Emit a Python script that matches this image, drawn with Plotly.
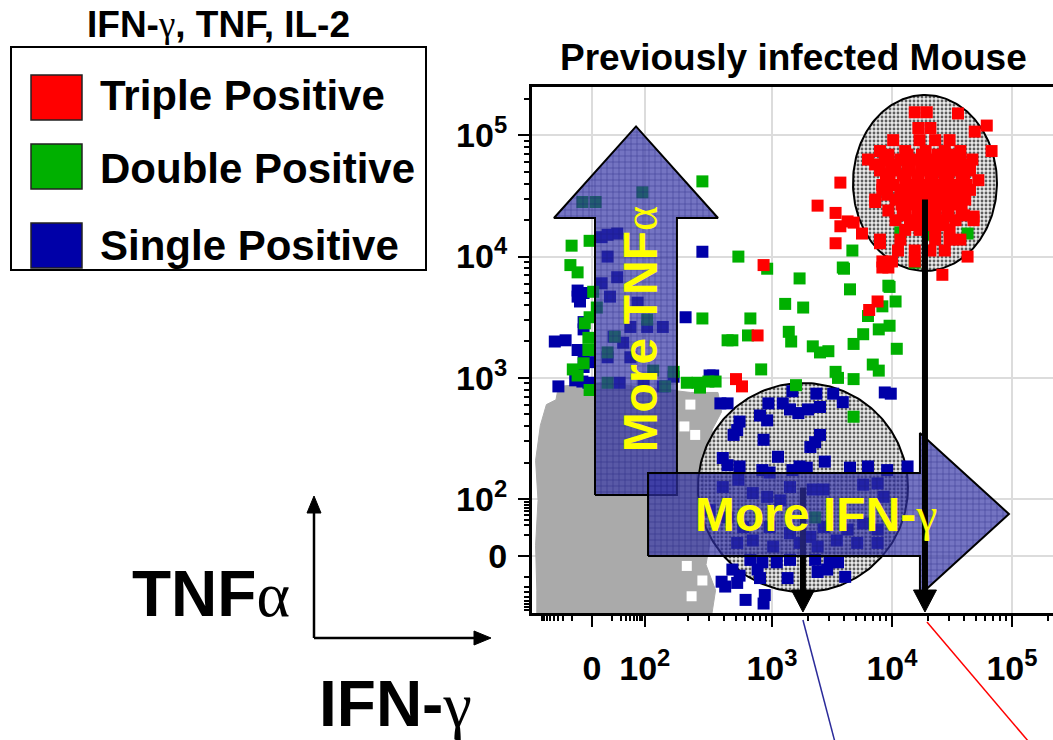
import numpy as np
import plotly.graph_objects as go

FONT = "Liberation Sans, Arial, sans-serif"
GREEK = "font-family:Liberation Serif, Times New Roman, serif;font-weight:normal"

# ---------------- axes: display decades (10^k sits near k, biexponential zero at *_ZERO)
X_RANGE = [1.0, 5.342]
Y_RANGE = [1.062, 5.398]
X_ZERO = 1.50
Y_ZERO = 1.532
x_tick_vals = [X_ZERO, 1.94, 3, 4, 5]
y_tick_vals = [Y_ZERO, 2, 3, 4, 5]
tick_text = ["0", "10<sup>2</sup>", "10<sup>3</sup>", "10<sup>4</sup>", "10<sup>5</sup>"]
linear_fracs = [0.37, 0.54, 0.64, 0.72, 0.79, 0.85, 0.905, 0.955]
log_decades = [2, 3, 4, 5]

# ---------------- events (IFN-gamma display decade, TNF display decade)
red_x = [4.22, 4.32, 4.19, 4.29, 4.55, 4.79, 4.69,
         4.01, 4.23, 4.36, 4.48,
         4.83, 3.90, 4.11, 4.28, 4.44, 4.57,
         3.80, 3.94, 4.07, 4.19, 4.32, 4.44, 4.57, 4.67,
         3.90, 4.03, 4.15, 4.28, 4.40, 4.53, 4.65,
         3.98, 4.11, 4.22, 4.32, 4.44, 4.58, 4.72,
         3.92, 4.07, 4.19, 4.30, 4.40, 4.53, 4.65,
         3.86, 4.03, 4.15, 4.28, 4.38, 4.48, 4.61,
         3.97, 4.11, 4.23, 4.36, 4.47, 4.58,
         4.03, 4.15, 4.28, 4.40, 4.53, 4.68,
         4.11, 4.23, 4.36, 4.48,
         3.90, 4.07, 4.36, 4.48, 4.57,
         4.05, 4.19, 4.32, 4.44,
         3.92, 4.00, 4.19,
         4.42, 4.63, 3.97,
         3.57, 3.63, 3.68, 3.75, 3.38, 3.53, 3.57, 3.53, 2.93, 3.88,
         3.81, 2.88, 2.70, 2.75, 3.92, 3.86, 4.68, 3.90, 3.92,
         3.97, 4.13, 4.25, 4.38, 4.50,
         3.86, 4.00, 4.13, 4.25, 4.36, 4.49, 4.61,
         3.95, 4.09, 4.21, 4.34, 4.47, 4.60,
         4.01, 4.15, 4.26, 4.36, 4.49, 4.62,
         3.96, 4.11, 4.23, 4.34, 4.45, 4.57,
         4.08, 4.20, 4.32, 4.43, 4.54,
         4.09, 4.21, 4.33, 4.46, 4.60,
         4.19, 4.31, 4.43]
red_y = [5.06, 5.06, 5.19, 5.19, 5.18, 5.08, 5.03,
         4.96, 4.96, 4.96, 4.96,
         4.87, 4.87, 4.87, 4.87, 4.87, 4.87,
         4.80, 4.80, 4.80, 4.80, 4.80, 4.80, 4.80, 4.80,
         4.71, 4.71, 4.71, 4.71, 4.71, 4.71, 4.71,
         4.63, 4.63, 4.63, 4.63, 4.63, 4.63, 4.63,
         4.55, 4.55, 4.55, 4.55, 4.55, 4.55, 4.55,
         4.47, 4.47, 4.47, 4.47, 4.47, 4.47, 4.47,
         4.38, 4.38, 4.38, 4.38, 4.38, 4.38,
         4.30, 4.30, 4.30, 4.30, 4.30, 4.30,
         4.22, 4.22, 4.22, 4.22,
         4.14, 4.14, 4.14, 4.14, 4.14,
         4.05, 4.05, 4.05, 4.05,
         3.96, 3.96, 3.96,
         3.85, 4.00, 3.91,
         4.61, 4.29, 4.28, 4.19, 4.42, 4.36, 4.25, 4.11, 3.93, 3.63,
         3.56, 3.35, 2.99, 2.93, 4.59, 4.45, 4.33, 4.11, 3.91,
         4.84, 4.84, 4.84, 4.84, 4.84,
         4.76, 4.76, 4.76, 4.76, 4.76, 4.76, 4.76,
         4.67, 4.67, 4.67, 4.67, 4.67, 4.67,
         4.59, 4.59, 4.59, 4.59, 4.59, 4.59,
         4.51, 4.51, 4.51, 4.51, 4.51, 4.51,
         4.43, 4.43, 4.43, 4.43, 4.43,
         4.34, 4.34, 4.34, 4.34, 4.34,
         4.26, 4.26, 4.26]

green_x = [2.42, 2.72, 2.96, 3.67, 3.60, 3.23, 3.65, 3.98, 3.11, 3.26,
           4.03, 3.92, 3.80, 2.42, 2.82, 2.80, 3.14, 3.16, 2.67, 3.76,
           3.89, 3.98, 3.68, 3.34, 3.40, 3.47, 4.04, 2.91, 3.84, 3.89,
           3.53, 3.55, 3.68,
           4.07, 4.32, 4.19, 4.63, 3.59, 3.97, 3.20, 3.68,
           2.38, 2.47, 2.53, 2.29, 2.40, 2.63,
           1.33, 1.48, 1.32, 1.38, 1.51, 1.54, 1.48, 1.44, 1.47, 1.47, 1.34, 1.38, 1.48, 1.43,
           1.92, 1.42, 1.53, 3.36, 1.69, 1.63, 2.01, 2.18, 2.11, 1.63, 1.96]
green_y = [4.62, 4.00, 3.90, 4.05, 3.90, 3.82, 3.73, 3.75, 3.61, 3.58,
           3.63, 3.59, 3.51, 3.49, 3.49, 3.35, 3.38, 3.30, 3.31, 3.36,
           3.40, 3.43, 3.28, 3.26, 3.21, 3.22, 3.24, 3.07, 3.11, 3.06,
           3.05, 3.00, 2.99,
           4.20, 4.18, 3.95, 4.19, 3.91, 3.76, 2.94, 2.68,
           2.96, 2.97, 2.97, 2.96, 2.92, 3.31,
           4.09, 4.13, 3.93, 3.87, 3.71, 3.58, 3.50, 3.45, 3.33, 3.23, 3.07, 3.02, 2.90, 3.12,
           4.53, 4.45, 4.45, 1.85, 3.34, 3.21, 3.06, 3.05, 2.93, 2.96, 3.48]

blue_x = [1.63, 1.71, 2.42, 1.38, 1.40, 1.19, 1.28, 1.43, 1.38, 1.48, 1.43, 1.22, 2.28, 2.51, 2.63, 1.42, 1.47, 1.38, 1.43, 1.43, 1.36, 1.43,
          1.63, 1.58, 1.71, 1.65, 1.88, 1.82, 1.96, 2.09, 1.68, 1.76, 1.63, 1.82, 1.73, 1.93, 2.18, 2.09, 1.58,
          2.57, 3.94, 2.48,
          3.17, 3.37, 3.51, 3.59, 3.99, 2.97, 3.09, 3.15, 3.22, 3.30, 3.40, 2.90, 2.96, 2.73, 2.71, 2.68, 2.93,
          3.40, 3.36, 3.32, 2.59, 2.63, 3.05, 3.44, 2.73, 2.92, 2.98, 3.17, 3.23, 3.29, 3.65, 3.80, 3.96, 4.13,
          2.59, 2.72, 2.84, 2.96, 3.07, 3.15, 3.34, 3.43, 3.76, 3.88, 3.93, 2.48, 2.63, 2.76, 2.98,
          3.15, 3.32, 3.43, 3.63, 3.76, 3.88, 2.71, 2.84, 3.01, 3.23, 3.38, 3.54, 3.71, 3.88,
          2.82, 2.92, 3.04, 3.15, 3.36, 3.48, 3.55, 2.67, 2.73, 2.58, 2.88, 2.90, 3.13, 3.38, 3.46, 3.61,
          2.78, 2.94, 2.93, 2.61, 2.71]
blue_y = [4.18, 4.19, 4.04, 3.67, 3.63, 3.30, 3.31, 3.40, 3.23, 3.13, 3.09, 2.93, 3.50, 3.02, 2.79, 2.97, 2.96, 3.72, 3.70, 3.46, 2.98, 3.19,
          4.00, 3.78, 3.83, 3.67, 3.62, 3.42, 3.42, 3.42, 3.34, 3.29, 3.17, 3.17, 2.96, 2.96, 3.01, 2.93, 4.16,
          2.79, 2.88, 3.02,
          2.89, 2.87, 2.87, 2.80, 2.87, 2.79, 2.79, 2.74, 2.71, 2.74, 2.76, 2.69, 2.65, 2.64, 2.57, 2.53, 2.49,
          2.53, 2.47, 2.43, 2.34, 2.28, 2.35, 2.31, 2.27, 2.24, 2.22, 2.24, 2.27, 2.26, 2.26, 2.27, 2.24, 2.27,
          2.10, 2.16, 2.05, 2.02, 1.99, 2.10, 2.08, 2.08, 2.12, 2.13, 2.02, 1.91, 1.85, 1.77, 1.77,
          1.72, 1.69, 1.77, 1.75, 1.80, 1.75, 1.64, 1.66, 1.61, 1.64, 1.61, 1.66, 1.64, 1.64,
          1.50, 1.48, 1.48, 1.50, 1.50, 1.48, 1.48, 1.42, 1.37, 1.32, 1.42, 1.35, 1.35, 1.40, 1.42, 1.36,
          1.17, 1.21, 1.14, 1.28, 1.31]

# outline of the non-responding (grey) population
gray_x = [1.04, 1.04, 1.03, 1.05, 1.03, 1.07, 1.12, 1.20, 1.22, 1.57, 1.98, 2.32, 2.55,
          2.58, 2.50, 2.53, 2.44, 2.50, 2.45, 2.53, 2.50]
gray_y = [1.06, 1.25, 1.62, 1.99, 2.32, 2.61, 2.78, 2.82, 2.93, 2.96, 2.92, 2.88, 2.88,
          2.72, 2.57, 2.32, 2.08, 1.75, 1.46, 1.25, 1.06]
# empty spots inside the grey population
gray_gap_x = [2.32, 2.27, 2.36, 2.29, 2.33, 2.42]
gray_gap_y = [2.78, 2.60, 2.53, 1.45, 1.20, 1.33]

# gates (ellipses) : triple-positive gate, single-positive gate
gate_cx = [4.275, 3.258]
gate_cy = [4.607, 2.096]
gate_rx = [0.60, 0.875]
gate_ry = [0.725, 0.862]
gate_line_top = [4.47, 2.096]

# legend
legend_labels = ["Triple Positive", "Double Positive", "Single Positive"]
legend_colors = ["#ff0000", "#00b000", "#0000a8"]

for a, b in [(red_x, red_y), (green_x, green_y), (blue_x, blue_y), (gray_x, gray_y),
             (gray_gap_x, gray_gap_y)]:
    assert len(a) == len(b), (len(a), len(b))

# ---------------- page geometry (pixels) used for decoration placement
PLOT_L, PLOT_T, PLOT_W, PLOT_H = 532, 87, 521, 526
PX_X = PLOT_W / (X_RANGE[1] - X_RANGE[0])
PX_Y = PLOT_H / (Y_RANGE[1] - Y_RANGE[0])


def pxx(px):
    return (px - PLOT_L) / PLOT_W


def pxy(py):
    return (PLOT_T + PLOT_H - py) / PLOT_H


def xpaper(v):
    return (v - X_RANGE[0]) / (X_RANGE[1] - X_RANGE[0])


def minor_ticks(zero, hundred, lo, hi):
    vals = []
    for f in linear_fracs:
        vals.append(zero + f * (hundred - zero))
        vals.append(zero - f * (hundred - zero))
    for d in log_decades:
        for k in range(2, 10):
            vals.append(d + np.log10(k))
    return [v for v in vals if lo < v < hi]


fig = go.Figure()

# grey population
fig.add_trace(go.Scatter(x=gray_x, y=gray_y, mode="lines", fill="toself",
                         fillcolor="#aaaaaa", line=dict(color="#aaaaaa", width=1),
                         hoverinfo="skip", showlegend=False))
fig.add_trace(go.Scatter(x=gray_gap_x, y=gray_gap_y, mode="markers",
                         marker=dict(symbol="square", size=10, color="white", line=dict(width=0)),
                         hoverinfo="skip", showlegend=False))

# gates
theta = np.linspace(0, 2 * np.pi, 241)
for cx, cy, rx, ry in zip(gate_cx, gate_cy, gate_rx, gate_ry):
    fig.add_trace(go.Scatter(
        x=cx + rx * np.cos(theta), y=cy + ry * np.sin(theta), mode="lines",
        fill="toself", fillcolor="rgba(232,232,232,0.88)",
        fillpattern=dict(shape=".", fgcolor="#222222", fgopacity=0.7, size=4,
                         solidity=0.4, fillmode="overlay"),
        line=dict(color="black", width=2), hoverinfo="skip", showlegend=False))

# events
for xs, ys, col in [(blue_x, blue_y, legend_colors[2]),
                    (green_x, green_y, legend_colors[1]),
                    (red_x, red_y, legend_colors[0])]:
    fig.add_trace(go.Scatter(x=xs, y=ys, mode="markers",
                             marker=dict(symbol="square", size=12, color=col, line=dict(width=0)),
                             hoverinfo="skip", showlegend=False))

HEAD_H = 22 / PX_Y
HEAD_W = 11.5 / PX_X
TIP_Y = Y_RANGE[0] + 1 / PX_Y


def gate_drop(i):
    gx = gate_cx[i]
    fig.add_trace(go.Scatter(x=[gx, gx], y=[gate_line_top[i], TIP_Y + HEAD_H],
                             mode="lines", line=dict(color="black", width=6),
                             hoverinfo="skip", showlegend=False))
    fig.add_trace(go.Scatter(x=[gx - HEAD_W, gx + HEAD_W, gx, gx - HEAD_W],
                             y=[TIP_Y + HEAD_H, TIP_Y + HEAD_H, TIP_Y, TIP_Y + HEAD_H],
                             mode="lines", fill="toself", fillcolor="black",
                             line=dict(color="black", width=1),
                             hoverinfo="skip", showlegend=False))


# single-positive drop line sits beneath the translucent arrow
gate_drop(1)

# big translucent arrows
arrow_fill = "rgba(50,50,165,0.68)"
arrow_pattern = dict(shape="+", fgcolor="#10106e", fgopacity=0.6, size=6,
                     solidity=0.16, fillmode="overlay")
up_x = [1.525, 1.525, 1.183, 1.867, 2.55, 2.208, 2.208, 1.525]
up_y = [2.034, 4.318, 4.318, 5.073, 4.318, 4.318, 2.034, 2.034]
right_x = [1.967, 1.967, 4.233, 4.233, 4.975, 4.233, 4.233, 1.967]
right_y = [1.532, 2.216, 2.216, 2.546, 1.878, 1.21, 1.532, 1.532]
for ax_, ay_ in [(up_x, up_y), (right_x, right_y)]:
    fig.add_trace(go.Scatter(x=ax_, y=ay_, mode="lines", fill="toself",
                             fillcolor=arrow_fill, fillpattern=arrow_pattern,
                             line=dict(color="black", width=2),
                             hoverinfo="skip", showlegend=False))

gate_drop(0)

shapes = []
annotations = []


def text_ann(text, x, y, size, color="black", xref="paper", yref="paper",
             xanchor="center", angle=0):
    return dict(text=text, xref=xref, yref=yref, x=x, y=y, xanchor=xanchor,
                yanchor="middle", showarrow=False, textangle=angle,
                font=dict(family=FONT, size=size, color=color, weight="bold"))


# legend box and swatches
shapes.append(dict(type="rect", xref="paper", yref="paper", x0=pxx(11), x1=pxx(426),
                   y0=pxy(270), y1=pxy(47), line=dict(color="black", width=2),
                   fillcolor="white", layer="above"))
sw_tops = [75, 144, 223]
txt_mid = [96, 168, 245]
for lab, col, top, mid in zip(legend_labels, legend_colors, sw_tops, txt_mid):
    shapes.append(dict(type="rect", xref="paper", yref="paper", x0=pxx(31), x1=pxx(82),
                       y0=pxy(top + 45), y1=pxy(top), fillcolor=col,
                       line=dict(color="#222222", width=1.5)))
    annotations.append(text_ann(lab, pxx(98), pxy(mid), 42, xanchor="left"))
annotations.append(text_ann(f"IFN-<span style='{GREEK}'>γ</span>, TNF, IL-2",
                            pxx(218), pxy(25), 37))

# panel title
annotations.append(text_ann("Previously infected Mouse", pxx(793), pxy(57), 37))

# arrow captions
annotations.append(text_ann(f"More TNF<span style='{GREEK}'>α</span>", 1.9, 3.40, 48,
                            color="#ffff00", xref="x", yref="y", angle=-90))
annotations.append(text_ann(f"More IFN-<span style='{GREEK}'>γ</span>", 3.367, 1.87, 48,
                            color="#ffff00", xref="x", yref="y"))

# lower-left axis key
kx, ky = pxx(314), pxy(638)
shapes.append(dict(type="line", xref="paper", yref="paper", x0=kx, y0=ky, x1=kx, y1=pxy(512),
                   line=dict(color="black", width=2.5)))
shapes.append(dict(type="path", xref="paper", yref="paper",
                   path=f"M{pxx(307)},{pxy(513)} L{pxx(321)},{pxy(513)} L{kx},{pxy(496)} Z",
                   fillcolor="black", line=dict(color="black", width=1)))
shapes.append(dict(type="line", xref="paper", yref="paper", x0=kx, y0=ky, x1=pxx(475), y1=ky,
                   line=dict(color="black", width=2.5)))
shapes.append(dict(type="path", xref="paper", yref="paper",
                   path=f"M{pxx(474)},{pxy(631)} L{pxx(474)},{pxy(645)} L{pxx(491)},{ky} Z",
                   fillcolor="black", line=dict(color="black", width=1)))
annotations.append(text_ann(f"TNF<span style='{GREEK}'>α</span>", pxx(211), pxy(594), 64))
annotations.append(text_ann(f"IFN-<span style='{GREEK}'>γ</span>", pxx(395), pxy(704), 64))

# connector lines leaving the gates' medians
shapes.append(dict(type="line", xref="paper", yref="paper",
                   x0=xpaper(gate_cx[1]), y0=pxy(620), x1=xpaper(gate_cx[1]) + 32 / PLOT_W, y1=pxy(742),
                   line=dict(color="#2b2b9a", width=1.5)))
shapes.append(dict(type="line", xref="paper", yref="paper",
                   x0=xpaper(gate_cx[0]) + 2 / PLOT_W, y0=pxy(622), x1=xpaper(gate_cx[0]) + 104 / PLOT_W, y1=pxy(742),
                   line=dict(color="#ff0000", width=1.5)))

axis_common = dict(showline=True, linecolor="black", linewidth=3, ticks="outside",
                   ticklen=11, tickwidth=2, tickcolor="black", showgrid=True,
                   gridcolor="#dcdcdc", gridwidth=2, zeroline=False, tickmode="array",
                   ticktext=tick_text,
                   tickfont=dict(family=FONT, size=34, color="black", weight="bold"))

fig.update_layout(
    width=1053, height=740,
    margin=dict(l=PLOT_L, r=1053 - PLOT_L - PLOT_W, t=PLOT_T, b=740 - PLOT_T - PLOT_H),
    paper_bgcolor="white", plot_bgcolor="white",
    xaxis=dict(range=X_RANGE, tickvals=x_tick_vals, mirror=True, tickangle=0,
               ticklabelstandoff=12,
               minor=dict(tickmode="array", tickvals=minor_ticks(X_ZERO, 1.94, *X_RANGE),
                          ticks="outside", ticklen=5, tickwidth=1.5, tickcolor="black",
                          showgrid=False),
               **axis_common),
    yaxis=dict(range=Y_RANGE, tickvals=y_tick_vals, ticklabelstandoff=4,
               minor=dict(tickmode="array", tickvals=minor_ticks(Y_ZERO, 2, *Y_RANGE),
                          ticks="outside", ticklen=5, tickwidth=1.5, tickcolor="black",
                          showgrid=False),
               **axis_common),
    shapes=shapes, annotations=annotations, showlegend=False,
)

fig.write_html("out.html")
